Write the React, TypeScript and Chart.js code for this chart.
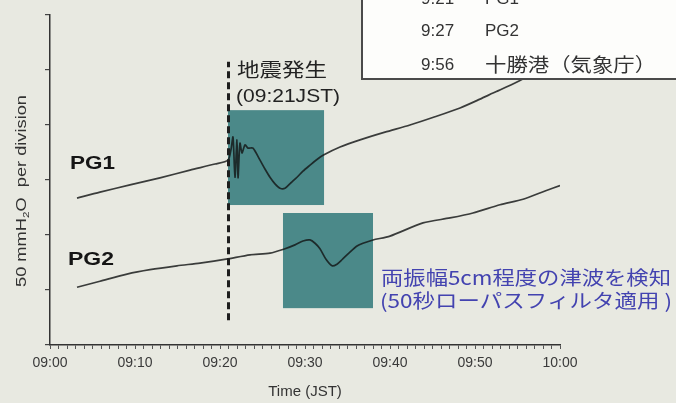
import React, { useEffect, useRef } from "react";
import { Chart, registerables } from "chart.js";

Chart.register(...registerables);

// ---- data (minutes after 09:00, value in divisions of 50 mmH2O) ----
const xTickLabels = ["09:00", "09:10", "09:20", "09:30", "09:40", "09:50", "10:00"];

const pg1Minutes = [3.18, 5.88, 9.41, 12.94, 16.47, 19.41, 20.94, 21.29, 21.53, 21.76, 22.0, 22.12, 22.35, 22.59, 22.94, 23.29, 23.88, 24.71, 25.29, 25.88, 26.47, 27.06, 27.65, 28.35, 29.06, 29.76, 30.59, 31.29, 32.12, 34.12, 36.47, 39.41, 42.35, 45.29, 48.24, 50.59, 52.12, 54.94, 57.06];
const pg1Values = [2.67, 2.78, 2.91, 3.04, 3.18, 3.29, 3.36, 3.55, 3.78, 3.05, 3.73, 3.04, 3.67, 3.49, 3.64, 3.58, 3.58, 3.36, 3.2, 3.05, 2.93, 2.85, 2.85, 2.95, 3.05, 3.16, 3.27, 3.36, 3.45, 3.6, 3.73, 3.87, 4.0, 4.15, 4.31, 4.47, 4.58, 4.78, 4.96];

const pg2Minutes = [3.18, 5.88, 9.06, 11.76, 14.94, 17.65, 20.71, 23.53, 25.88, 27.65, 28.82, 29.76, 30.59, 31.18, 31.76, 32.47, 33.18, 33.76, 34.35, 35.29, 36.12, 36.82, 38.0, 40.0, 43.88, 47.06, 49.76, 52.94, 55.65, 58.24, 60.0];
const pg2Values = [1.05, 1.16, 1.29, 1.37, 1.44, 1.49, 1.56, 1.64, 1.67, 1.75, 1.82, 1.89, 1.91, 1.85, 1.75, 1.56, 1.44, 1.47, 1.55, 1.69, 1.8, 1.85, 1.91, 1.98, 2.22, 2.31, 2.4, 2.55, 2.65, 2.8, 2.9];

const quakeMinute = [21, 21];
const quakeSpan = [0.45, 5.15];

// highlight boxes: [xMin, xMax, yMin, yMax]
const box1 = [20.94, 32.24, 2.545, 4.27];
const box2 = [27.41, 38.0, 0.67, 2.4];

const legendTimes = ["9:21", "9:27", "9:56"];
const legendNames = ["PG1", "PG2", "十勝港（気象庁）"];

const seriesNames = ["PG1", "PG2"];
const quakeLabel = ["地震発生", "(09:21JST)"];
const noteLines = ["両振幅5cm程度の津波を検知", "(50秒ローパスフィルタ適用 )"];

const SANS = "'Liberation Sans', Arial, 'Noto Sans CJK JP', sans-serif";
const CJK = "'Noto Sans CJK JP', 'Liberation Sans', sans-serif";

function drawText(
  ctx: CanvasRenderingContext2D,
  text: string,
  left: number,
  cy: number,
  font: string,
  color: string,
  width?: number
) {
  ctx.save();
  ctx.font = font;
  ctx.fillStyle = color;
  ctx.textAlign = "left";
  ctx.textBaseline = "middle";
  const w = ctx.measureText(text).width;
  const sx = width ? width / w : 1;
  ctx.translate(left, cy);
  ctx.scale(sx, 1);
  ctx.fillText(text, 0, 0);
  ctx.restore();
}

const decorPlugin = {
  id: "decor",
  beforeDatasetsDraw(chart: any) {
    const ctx = chart.ctx as CanvasRenderingContext2D;
    const xs = chart.scales.x;
    const ys = chart.scales.y;
    ctx.save();
    ctx.fillStyle = "#4b8989";
    for (const b of [box1, box2]) {
      const x0 = xs.getPixelForValue(b[0]);
      const x1 = xs.getPixelForValue(b[1]);
      const y0 = ys.getPixelForValue(b[3]);
      const y1 = ys.getPixelForValue(b[2]);
      ctx.fillRect(x0, y0, x1 - x0, y1 - y0);
    }
    ctx.restore();
  },
  afterDraw(chart: any) {
    const ctx = chart.ctx as CanvasRenderingContext2D;
    // y-axis title with subscript
    ctx.save();
    ctx.fillStyle = "#333";
    ctx.textBaseline = "middle";
    ctx.textAlign = "left";
    const f1 = `14px ${SANS}`;
    const f2 = `9px ${SANS}`;
    const p1 = "50 mmH";
    const p2 = "2";
    const p3 = "O  per division";
    ctx.font = f1;
    const w1 = ctx.measureText(p1).width;
    const w3 = ctx.measureText(p3).width;
    ctx.font = f2;
    const w2 = ctx.measureText(p2).width;
    const total = w1 + w2 + w3;
    const sx = 192 / total;
    ctx.translate(22, 287);
    ctx.rotate(-Math.PI / 2);
    ctx.scale(sx, 1);
    ctx.font = f1;
    ctx.fillText(p1, 0, 0);
    ctx.font = f2;
    ctx.fillText(p2, w1, 5);
    ctx.font = f1;
    ctx.fillText(p3, w1 + w2, 0);
    ctx.restore();

    // series labels
    drawText(ctx, seriesNames[0], 70, 164, `bold 19px ${SANS}`, "#151515", 45);
    drawText(ctx, seriesNames[1], 68, 260, `bold 19px ${SANS}`, "#151515", 46);

    // earthquake label
    drawText(ctx, quakeLabel[0], 237, 70, `19px ${CJK}`, "#222", 90);
    drawText(ctx, quakeLabel[1], 236, 97, `18px ${SANS}`, "#222", 104);

    // blue note
    drawText(ctx, noteLines[0], 381, 278, `19px ${CJK}`, "#4343b0", 290);
    drawText(ctx, noteLines[1], 380, 301, `19px ${CJK}`, "#4343b0", 292);

    // legend box (top right)
    ctx.save();
    ctx.fillStyle = "#fdfdfb";
    ctx.fillRect(362, -5, 330, 84);
    ctx.strokeStyle = "#4a4a4a";
    ctx.lineWidth = 2;
    ctx.strokeRect(362, -5, 330, 84);
    ctx.restore();
    const rowsY = [-1, 31, 65];
    for (let i = 0; i < legendTimes.length; i++) {
      drawText(ctx, legendTimes[i], 421, rowsY[i], `17px ${SANS}`, "#333");
      if (i === 2) {
        drawText(ctx, legendNames[i], 485, rowsY[i], `19px ${CJK}`, "#333", 171);
      } else {
        drawText(ctx, legendNames[i], 485, rowsY[i], `17px ${SANS}`, "#333");
      }
    }
  },
};

export default function App() {
  const ref = useRef<HTMLCanvasElement>(null);
  useEffect(() => {
    if (!ref.current) return;
    const lineColor = "rgba(20,22,22,0.82)";
    const chart = new Chart(ref.current, {
      type: "line",
      data: {
        datasets: [
          {
            label: "quake",
            data: quakeMinute.map((m, i) => ({ x: m, y: quakeSpan[i] })),
            borderColor: "#1e1e1e",
            borderWidth: 3,
            borderDash: [7, 4],
            pointRadius: 0,
          },
          {
            label: seriesNames[0],
            data: pg1Minutes.map((m, i) => ({ x: m, y: pg1Values[i] })),
            borderColor: lineColor,
            borderWidth: 1.7,
            pointRadius: 0,
            tension: 0.25,
          },
          {
            label: seriesNames[1],
            data: pg2Minutes.map((m, i) => ({ x: m, y: pg2Values[i] })),
            borderColor: lineColor,
            borderWidth: 1.7,
            pointRadius: 0,
            tension: 0.25,
          },
        ],
      },
      options: {
        animation: false,
        responsive: false,
        devicePixelRatio: 1,
        layout: { padding: { left: 40, right: 116, top: 15, bottom: 0 } },
        plugins: { legend: { display: false }, tooltip: { enabled: false } },
        scales: {
          x: {
            type: "linear",
            min: 0,
            max: 60,
            afterFit: (s: any) => {
              s.height = 58;
            },
            border: { color: "#333", width: 1.5 },
            grid: { drawOnChartArea: false, tickLength: 4, color: "#555", lineWidth: 1 },
            ticks: {
              stepSize: 1,
              autoSkip: false,
              maxRotation: 0,
              padding: 6,
              color: "#3a3a3a",
              font: { size: 14, family: SANS },
              callback: (v: any) => (Number(v) % 10 === 0 ? xTickLabels[Number(v) / 10] : ""),
            },
            title: {
              display: true,
              text: "Time (JST)",
              color: "#333",
              font: { size: 15, family: SANS },
              padding: { top: 0, bottom: 2 },
            },
          },
          y: {
            type: "linear",
            min: 0,
            max: 6,
            afterFit: (s: any) => {
              s.width = 10;
            },
            border: { color: "#333", width: 1.5 },
            grid: { drawOnChartArea: false, tickLength: 5, color: "#444", lineWidth: 1.2 },
            ticks: { stepSize: 1, callback: () => "", padding: 0 },
          },
        },
      },
      plugins: [decorPlugin],
    } as any);
    return () => chart.destroy();
  }, []);

  return (
    <div
      style={{
        position: "fixed",
        left: 0,
        top: 0,
        width: 676,
        height: 403,
        background: "#e8e9e1",
      }}
    >
      <canvas ref={ref} width={676} height={403} style={{ display: "block" }} />
    </div>
  );
}
